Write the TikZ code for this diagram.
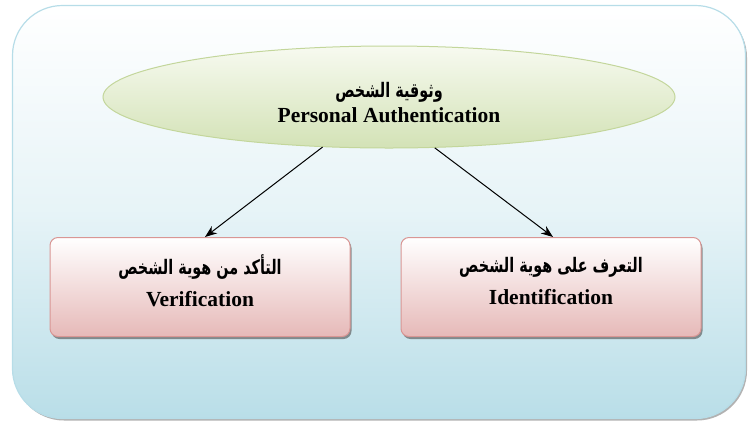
\documentclass[tikz,border=0pt]{standalone}
\usepackage{fontspec}
\setmainfont{Liberation Serif}
\newfontfamily\arabicfont[Script=Arabic,FakeStretch=0.72]{DejaVu Sans}
\TeXXeTstate=1
\usetikzlibrary{shapes.geometric,shadows,arrows.meta}
\definecolor{bgedge}{HTML}{B7DDE8}
\definecolor{bgbottom}{HTML}{B9DEE8}
\definecolor{elledge}{HTML}{C3D69B}
\definecolor{ellbottom}{HTML}{D3E2B6}
\definecolor{ellTop}{HTML}{F7FAF0}
\definecolor{boxedge}{HTML}{D99694}
\definecolor{boxbottom}{HTML}{E6B9B8}
\tikzset{
  bgbox/.style={draw=bgedge, line width=1.2pt, rounded corners=50pt, top color=white, bottom color=bgbottom, middle color=bgbottom!35,
    minimum width=733pt, minimum height=413pt, inner sep=0pt,
    drop shadow={shadow xshift=1.5pt, shadow yshift=-2pt, opacity=.5, fill=black!60}},
  ellnode/.style={ellipse, draw=elledge, line width=1pt, top color=ellTop, bottom color=ellbottom,
    minimum width=572pt, minimum height=102pt, inner sep=0pt},
  boxnode/.style={draw=boxedge, line width=1pt, rounded corners=8pt, top color=white, bottom color=boxbottom,
    minimum width=300pt, minimum height=99pt, inner sep=0pt,
    drop shadow={shadow xshift=1.5pt, shadow yshift=-2.5pt, opacity=.65, fill=black!65}},
  txt/.style={align=center, inner sep=0pt, font=\fontsize{21.5}{25}\selectfont\bfseries},
  arr/.style={-{Stealth[length=12pt,width=9pt]}, line width=1pt, black}
}
\begin{document}
\begin{tikzpicture}[x=1pt,y=-1pt]
\useasboundingbox (0,0) rectangle (750,424);
\node[bgbox] (bg) at (379,212) {};
\node[ellnode] (auth) at (389,97) {};
\node[txt] (authtxt) at (389,103) {{\arabicfont\fontsize{20}{25}\selectfont\bfseries\beginR وثوقية الشخص\endR}\\[0pt] Personal Authentication};
\node[boxnode] (ver) at (200,287) {};
\node[txt] (vertxt) at (200,281) {{\arabicfont\fontsize{20}{25}\selectfont\bfseries\beginR التأكد من هوية الشخص\endR}\\[7pt] Verification};
\node[boxnode] (idf) at (551,287) {};
\node[txt] (idftxt) at (551,281) {{\arabicfont\fontsize{20}{25}\selectfont\bfseries\beginR التعرف على هوية الشخص\endR}\\[7pt] Identification};
\draw[arr] (auth.217) -- ([xshift=5pt]ver.north);
\draw[arr] (auth.312) -- ([xshift=2pt]idf.north);
\end{tikzpicture}
\end{document}
